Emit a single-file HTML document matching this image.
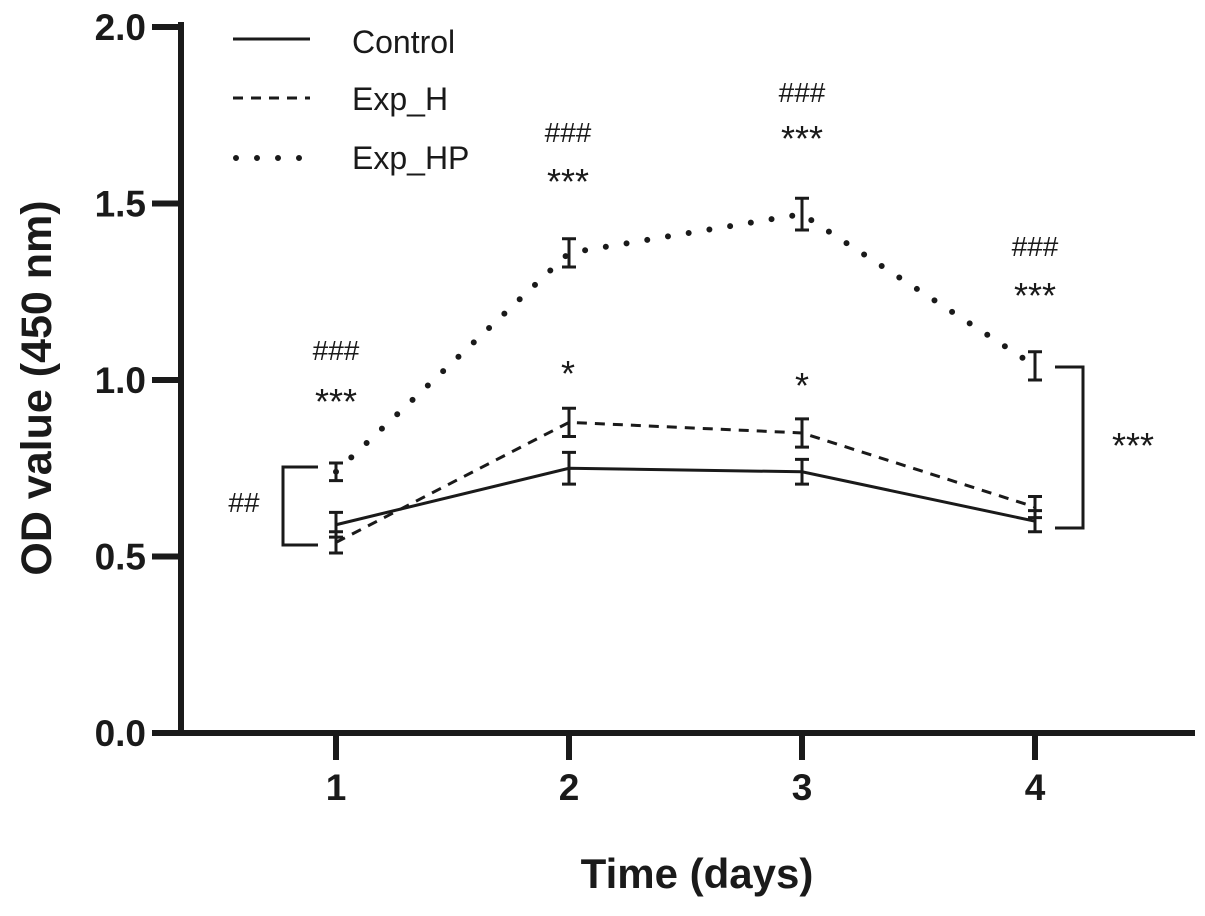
<!DOCTYPE html>
<html><head><meta charset="utf-8"><style>
body{margin:0;background:#fff;}
svg text{font-family:"Liberation Sans",Arial,sans-serif;fill:#1a1a1a;}
</style></head><body>
<svg id="chart" width="1205" height="911" viewBox="0 0 1205 911" xmlns="http://www.w3.org/2000/svg">
<g id="axes"></g>
<g id="series"></g>
<g id="annot"></g>
<text transform="translate(51,388) rotate(-90)" text-anchor="middle" font-size="43" font-weight="bold">OD value (450 nm)</text>
<text x="697" y="888" text-anchor="middle" font-size="42" font-weight="bold">Time (days)</text>
<g>
<line x1="233" y1="39" x2="310" y2="39" stroke="#1a1a1a" stroke-width="3"/>
<text x="352" y="53" font-size="32">Control</text>
<line x1="233" y1="98" x2="310" y2="98" stroke="#1a1a1a" stroke-width="3" stroke-dasharray="10,8"/>
<text x="352" y="110" font-size="32">Exp_H</text>
<line x1="236" y1="158" x2="300" y2="158" stroke="#1a1a1a" stroke-width="6" stroke-dasharray="0,21" stroke-linecap="round"/>
<text x="352" y="169" font-size="32">Exp_HP</text>
</g>
</svg>
<script>
const days=[1,2,3,4];
const yTicks=[0,0.5,1.0,1.5,2.0];
const control=[0.59,0.75,0.74,0.60];
const controlErr=[0.035,0.045,0.035,0.03];
const expH=[0.54,0.88,0.85,0.64];
const expHErr=[0.03,0.04,0.04,0.03];
const expHP=[0.74,1.36,1.47,1.04];
const expHPErr=[0.025,0.04,0.045,0.04];
const ns="http://www.w3.org/2000/svg";
const X=d=>336+(d-1)*233;
const Y=v=>733-v*353;
function mk(p,t,a){const e=document.createElementNS(ns,t);for(const k in a)e.setAttribute(k,a[k]);p.appendChild(e);return e;}
const axes=document.getElementById('axes');
let e=mk(axes,'line',{x1:181,y1:22,x2:181,y2:736,stroke:'#1a1a1a','stroke-width':6});


e=mk(axes,'line',{x1:178,y1:733,x2:1195,y2:733,stroke:'#1a1a1a','stroke-width':6});


yTicks.forEach(v=>{
 const t=mk(axes,'line',{x1:152,y1:Y(v),x2:181,y2:Y(v),stroke:'#1a1a1a','stroke-width':6});
 
 
 const l=mk(axes,'text',{x:146,y:Y(v)+13,'text-anchor':'end','font-size':37,'font-weight':'bold'});
 l.textContent=v.toFixed(1);
 
 
});
days.forEach(d=>{
 const t=mk(axes,'line',{x1:X(d),y1:733,x2:X(d),y2:760,stroke:'#1a1a1a','stroke-width':6});
 
 
 const l=mk(axes,'text',{x:X(d),y:800,'text-anchor':'middle','font-size':37,'font-weight':'bold'});
 l.textContent=d;
 
 
});
const ser=document.getElementById('series');
function drawSeries(vals,errs,name,style){
 const pts=vals.map((v,i)=>X(days[i])+','+Y(v)).join(' ');
 const pl=mk(ser,'polyline',Object.assign({points:pts,fill:'none',stroke:'#1a1a1a'},style));
 
 
 vals.forEach((v,i)=>{
  const x=X(days[i]),y1=Y(v+errs[i]),y2=Y(v-errs[i]);
  const g=mk(ser,'path',{d:`M${x},${y1}V${y2}M${x-7},${y1}H${x+7}M${x-7},${y2}H${x+7}`,stroke:'#1a1a1a','stroke-width':3,fill:'none'});
  
  
 });
}
drawSeries(control,controlErr,'control',{'stroke-width':3});
drawSeries(expH,expHErr,'exp-h',{'stroke-width':3,'stroke-dasharray':'10,8'});
drawSeries(expHP,expHPErr,'exp-hp',{'stroke-width':6,'stroke-dasharray':'0,21','stroke-linecap':'round'});
const an=document.getElementById('annot');
const labels=[[336,360,'###'],[336,414,'***'],[568,142,'###'],[568,194,'***'],[568,386,'*'],[802,102,'###'],[802,151,'***'],[802,398,'*'],[1035,256,'###'],[1035,308,'***'],[244,512,'##'],[1133,458,'***']];
labels.forEach(([x,y,s])=>{
 const t=mk(an,'text',{x:x,y:y,'text-anchor':'middle','font-size':s[0]=='#'?28:36});
 t.textContent=s;
 
 
});
e=mk(an,'path',{d:'M318,467H283V545H318',fill:'none',stroke:'#1a1a1a','stroke-width':3});


e=mk(an,'path',{d:'M1055,367H1083V528H1055',fill:'none',stroke:'#1a1a1a','stroke-width':3});


</script>
</body></html>
